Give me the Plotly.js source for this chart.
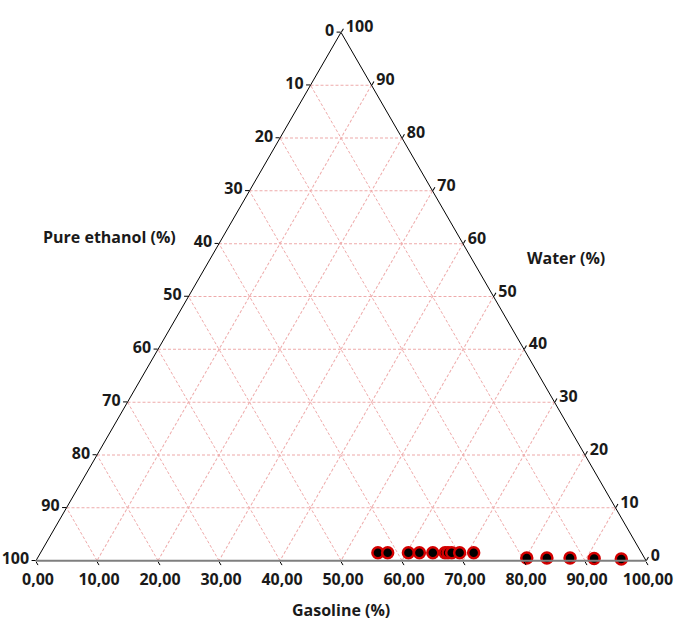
<!DOCTYPE html>
<html>
<head>
<meta charset="utf-8">
<script src="https://cdn.plot.ly/plotly-3.0.1.min.js"></script>
<style>
  html, body { margin: 0; padding: 0; background: #fff; }
  #chart { width: 676px; height: 621px; }
</style>
</head>
<body>
<div id="chart"></div>
<script>
// Composition of each sample (%)
const gasoline = [55.3, 56.9, 60.3, 62.1, 64.3, 66.3, 66.8, 67.4, 68.7, 71.0, 80.2, 83.5, 87.3, 91.3, 95.8];
const water    = [1.5, 1.5, 1.5, 1.5, 1.5, 1.5, 1.5, 1.5, 1.5, 1.5, 0.5, 0.5, 0.5, 0.4, 0.3];
const ethanol  = [43.2, 41.6, 38.2, 36.4, 34.2, 32.2, 31.7, 31.1, 29.8, 27.5, 19.3, 16.0, 12.2, 8.3, 3.9];

// Tick values and labels
const tickVals    = [0, 10, 20, 30, 40, 50, 60, 70, 80, 90, 100];
const leftLabels  = ['100', '90', '80', '70', '60', '50', '40', '30', '20', '10', '0'];
const bottomLabels = ['100,00', '90,00', '80,00', '70,00', '60,00', '50,00', '40,00', '30,00', '20,00', '10,00', '0,00'];
const rightLabels = ['100', '90', '80', '70', '60', '50', '40', '30', '20', '10', '0'];

const titleEthanol = 'Pure ethanol (%)';
const titleWater = 'Water (%)';
const titleGasoline = 'Gasoline (%)';

const tickFont = { family: 'Open Sans, sans-serif', size: 16, color: '#1a1a1a', weight: 700 };

function axisCfg(labels, lineColor, lineWidth) {
  return {
    tickmode: 'array',
    tickvals: tickVals,
    ticktext: labels,
    showgrid: true,
    gridcolor: '#eeaaaa',
    griddash: '3px,2px',
    gridwidth: 1,
    showline: true,
    linecolor: lineColor,
    linewidth: lineWidth,
    ticks: 'outside',
    ticklen: 4,
    tickcolor: '#000',
    tickfont: tickFont,
    title: { text: '' }
  };
}

const trace = {
  type: 'scatterternary',
  mode: 'markers',
  a: water,
  b: ethanol,
  c: gasoline,
  cliponaxis: false,
  marker: {
    size: 11,
    color: '#000',
    line: { color: '#d40000', width: 2.5 }
  },
  showlegend: false,
  hoverinfo: 'a+b+c'
};

const annFont = { family: 'Open Sans, sans-serif', size: 16, color: '#1a1a1a', weight: 700 };

const layout = {
  width: 676,
  height: 621,
  margin: { l: 36, r: 30, t: 30, b: 58 },
  paper_bgcolor: '#fff',
  showlegend: false,
  ternary: {
    sum: 100,
    bgcolor: '#fff',
    domain: { x: [0, 1], y: [0, 1] },
    aaxis: axisCfg(leftLabels, '#000', 1),
    baxis: axisCfg(bottomLabels, '#7f7f7f', 2),
    caxis: axisCfg(rightLabels, '#000', 1)
  },
  annotations: [
    { text: titleEthanol, xref: 'paper', yref: 'paper', x: 0.1213, y: 0.6117, showarrow: false, font: annFont, xanchor: 'center', yanchor: 'middle' },
    { text: titleWater, xref: 'paper', yref: 'paper', x: 0.8689, y: 0.572, showarrow: false, font: annFont, xanchor: 'center', yanchor: 'middle' },
    { text: titleGasoline, xref: 'paper', yref: 'paper', x: 0.5, y: -0.089, showarrow: false, font: annFont, xanchor: 'center', yanchor: 'middle' }
  ]
};

Plotly.newPlot('chart', [trace], layout, { displayModeBar: false, staticPlot: true });
</script>
</body>
</html>
